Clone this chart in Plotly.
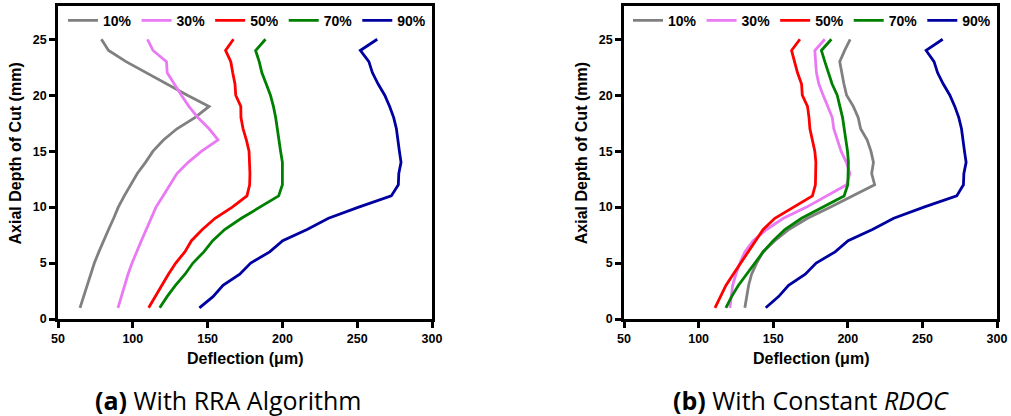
import plotly.graph_objects as go

# Axial depth of cut (mm)
depth = list(range(1, 26))

# (a) With RRA Algorithm: deflection (um) by radial immersion
rra_10 = [64.7, 67.0, 69.2, 71.8, 74.3, 77.3, 80.4, 83.8, 87.2, 90.3, 94.3, 98.6, 103.0,
          108.5, 113.5, 120.5, 129.5, 141.5, 151.0, 136.5, 122.5, 108.8, 95.5, 83.8, 79.0]
rra_30 = [90.1, 92.3, 94.3, 96.8, 99.5, 102.4, 105.7, 109.0, 112.4, 115.5, 120.2, 124.6, 129.5,
          137.0, 146.0, 157.0, 151.0, 143.5, 137.5, 132.5, 128.0, 123.0, 122.5, 113.5, 109.8]
rra_50 = [110.6, 115.0, 119.3, 123.8, 128.7, 134.8, 139.2, 146.5, 155.0, 166.5, 176.3, 178.1, 178.3,
          178.1, 177.7, 175.9, 173.7, 172.3, 172.2, 168.8, 168.3, 166.8, 165.5, 162.0, 167.3]
rra_70 = [118.0, 122.9, 128.5, 134.9, 140.2, 147.5, 153.4, 161.4, 172.6, 185.0, 197.5, 200.0, 200.0,
          200.0, 198.8, 197.7, 197.1, 195.5, 194.0, 192.0, 189.2, 186.3, 184.5, 182.1, 188.7]
rra_90 = [144.5, 153.6, 160.3, 171.5, 178.8, 191.5, 200.2, 216.5, 230.8, 251.0, 272.8, 277.5, 277.8,
          279.3, 278.2, 277.3, 276.2, 274.4, 271.7, 268.4, 264.0, 260.2, 257.8, 252.1, 263.4]

# (b) With Constant RDOC
rdoc_10 = [131.0, 132.4, 133.5, 135.5, 138.9, 143.1, 151.1, 160.5, 173.0, 188.5, 203.8, 218.0, 216.0,
           217.2, 215.5, 213.0, 208.6, 207.0, 203.7, 199.2, 197.4, 195.8, 194.6, 197.9, 201.6]
rdoc_30 = [121.0, 121.7, 122.8, 125.0, 127.7, 131.0, 136.6, 145.6, 156.8, 172.4, 185.8, 199.2, 201.4,
           199.0, 195.5, 193.0, 190.6, 189.6, 186.8, 183.5, 180.6, 179.0, 178.4, 177.9, 184.6]
rdoc_50 = [111.0, 114.8, 118.3, 123.2, 128.2, 133.3, 137.7, 143.3, 151.1, 163.3, 176.3, 178.3, 178.6,
           178.6, 177.9, 176.1, 174.6, 174.0, 173.0, 169.5, 169.0, 166.3, 164.5, 162.3, 167.9]
rdoc_70 = [118.3, 122.1, 126.6, 132.2, 137.7, 143.3, 150.0, 157.8, 169.0, 183.5, 197.5, 200.0, 200.4,
           200.4, 199.8, 198.7, 197.3, 196.5, 194.7, 192.9, 189.5, 186.8, 184.6, 182.3, 189.0]
rdoc_90 = [145.0, 153.6, 160.3, 171.5, 178.8, 191.5, 200.2, 216.5, 230.8, 251.0, 273.0, 277.5, 277.8,
           279.3, 278.2, 277.3, 276.2, 274.4, 271.7, 268.4, 264.0, 260.2, 257.8, 252.5, 263.6]

labels = ["10%", "30%", "50%", "70%", "90%"]
colors = ["#808080", "#EA7AF4", "#FF0000", "#008000", "#0000A0"]

x_ticks = [50, 100, 150, 200, 250, 300]
y_ticks = [0, 5, 10, 15, 20, 25]

W, H = 1011, 416
FONT = "Liberation Sans, Arial, sans-serif"

fig = go.Figure()

panels = [
    ([rra_10, rra_30, rra_50, rra_70, rra_90], "x", "y", "legend"),
    ([rdoc_10, rdoc_30, rdoc_50, rdoc_70, rdoc_90], "x2", "y2", "legend2"),
]
for series, xa, ya, lg in panels:
    for vals, name, col in zip(series, labels, colors):
        fig.add_trace(go.Scatter(
            x=vals, y=depth, mode="lines", name=name,
            line=dict(color=col, width=2.8),
            xaxis=xa, yaxis=ya, legend=lg,
        ))

axis_common = dict(
    showline=True, mirror=True, linecolor="black", linewidth=2.6,
    ticks="outside", ticklen=6, tickwidth=2.5, tickcolor="black",
    showgrid=False, zeroline=False, automargin=False,
    tickfont=dict(family=FONT, size=12.5, color="black", weight="bold"),
)
ydom = [97 / H, 410.3 / H]

fig.update_layout(
    template="none",
    width=W, height=H,
    margin=dict(l=0, r=0, t=0, b=0, autoexpand=False),
    paper_bgcolor="white", plot_bgcolor="white",
    showlegend=True,
    xaxis=dict(domain=[58 / W, 432 / W], range=[50, 300], tickvals=x_ticks, anchor="y", **axis_common),
    yaxis=dict(domain=ydom, range=[0, 28], tickvals=y_ticks, anchor="x", **axis_common),
    xaxis2=dict(domain=[624 / W, 997 / W], range=[50, 300], tickvals=x_ticks, anchor="y2", **axis_common),
    yaxis2=dict(domain=ydom, range=[0, 28], tickvals=y_ticks, anchor="x2", **axis_common),
)

legend_common = dict(
    orientation="h", yanchor="middle", xanchor="left",
    bgcolor="rgba(0,0,0,0)", borderwidth=0,
    font=dict(family=FONT, size=14, color="black", weight="bold"),
)
fig.update_layout(
    legend=dict(x=63 / W, y=1 - 20.7 / H, **legend_common),
    legend2=dict(x=628 / W, y=1 - 20.7 / H, **legend_common),
)

title_font = dict(family=FONT, size=16, color="black", weight="bold")
annotations = [
    dict(text="Deflection (μm)", x=245 / W, y=1 - 358 / H),
    dict(text="Deflection (μm)", x=811 / W, y=1 - 358 / H),
    dict(text="Axial Depth of Cut (mm)", x=15 / W, y=1 - 153.5 / H, textangle=-90),
    dict(text="Axial Depth of Cut (mm)", x=581.7 / W, y=1 - 153.5 / H, textangle=-90),
]
for a in annotations:
    fig.add_annotation(xref="paper", yref="paper", showarrow=False,
                       xanchor="center", yanchor="middle", font=title_font, **a)

caption_font = dict(family="Open Sans, Noto Sans, sans-serif", size=25, color="black")
fig.add_annotation(text="<b>(a)</b> With RRA Algorithm", xref="paper", yref="paper",
                   x=93 / W, y=1 - 400 / H, xanchor="left", yanchor="middle",
                   showarrow=False, font=caption_font)
fig.add_annotation(text="<b>(b)</b> With Constant <i>RDOC</i>", xref="paper", yref="paper",
                   x=671 / W, y=1 - 400 / H, xanchor="left", yanchor="middle",
                   showarrow=False, font=caption_font)

fig.write_html("out.html")
